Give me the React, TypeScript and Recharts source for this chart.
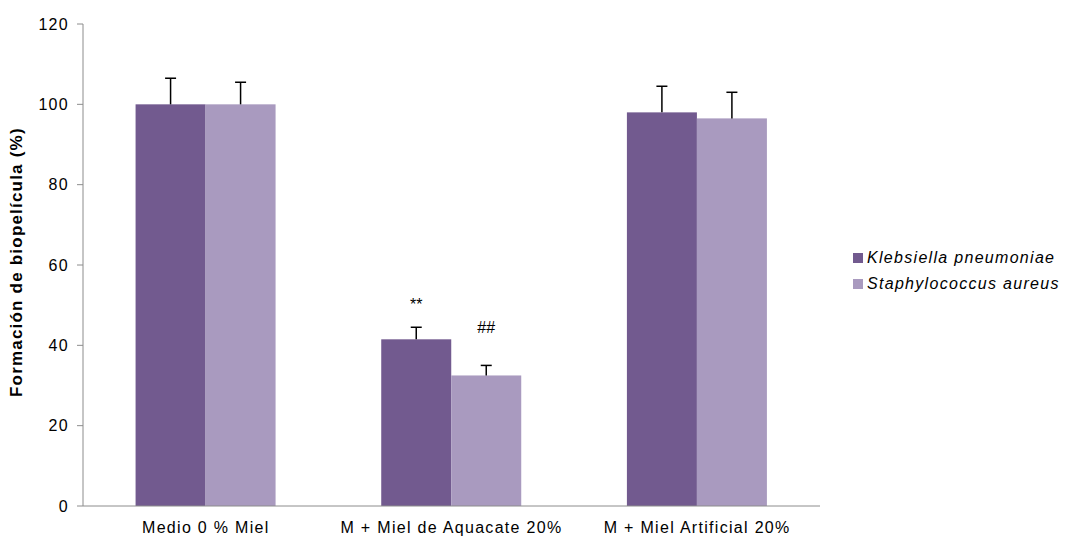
import React from 'react';
import { BarChart, Bar, XAxis, YAxis, Legend } from 'recharts';

const categories = ['Medio 0 % Miel', 'M + Miel de Aquacate 20%', 'M + Miel Artificial 20%'];
const klebsiella = [100, 41.5, 98];
const klebsiellaErr = [6.5, 3, 6.5];
const klebsiellaMark = ['', '**', ''];
const staphylococcus = [100, 32.5, 96.5];
const staphylococcusErr = [5.5, 2.5, 6.5];
const staphylococcusMark = ['', '##', ''];
const yTicks = [0, 20, 40, 60, 80, 100, 120];

const DARK = '#725a8f';
const LIGHT = '#a99abf';
const AXIS = '#8c8c8c';
const FONT = '"Liberation Sans", Arial, sans-serif';
const SPACING = 1.3; // the source text is rendered a bit wide

const data = categories.map((name, i) => ({
  name,
  kp: klebsiella[i],
  kpErr: klebsiellaErr[i],
  kpMark: klebsiellaMark[i],
  sa: staphylococcus[i],
  saErr: staphylococcusErr[i],
  saMark: staphylococcusMark[i],
}));

// bar rect + upward-only error whisker + significance mark
const makeShape = (key: string, markGap: number) => (props: any) => {
  const { x, y, width, height, fill, payload } = props;
  const v = payload[key];
  const err = payload[key + 'Err'];
  const mark = payload[key + 'Mark'];
  const errPx = v ? (err / v) * height : 0;
  const cx = x + width / 2;
  const top = y - errPx;
  return (
    <g>
      <rect x={x} y={y} width={width} height={height} fill={fill} />
      <line x1={cx} x2={cx} y1={y} y2={top} stroke="#000" strokeWidth={1.5} />
      <line x1={cx - 5.5} x2={cx + 5.5} y1={top} y2={top} stroke="#000" strokeWidth={1.5} />
      {mark ? (
        <text x={cx} y={top - markGap} textAnchor="middle" fontSize={16} fontFamily={FONT} fill="#000">
          {mark}
        </text>
      ) : null}
    </g>
  );
};

const renderLegend = () => (
  <div
    style={{
      fontFamily: FONT,
      fontSize: 16,
      letterSpacing: SPACING,
      fontStyle: 'italic',
      color: '#000',
      paddingLeft: 23,
      marginTop: -4,
    }}
  >
    {[
      { label: 'Klebsiella pneumoniae', color: DARK },
      { label: 'Staphylococcus aureus', color: LIGHT },
    ].map((it) => (
      <div key={it.label} style={{ display: 'flex', alignItems: 'center', height: 26 }}>
        <span style={{ display: 'inline-block', width: 10, height: 10, background: it.color, marginRight: 4 }} />
        <span>{it.label}</span>
      </div>
    ))}
  </div>
);

const tickStyle = { fill: '#000', fontSize: 16, fontFamily: FONT, letterSpacing: SPACING };

export default function App() {
  return (
    <BarChart
      width={1055}
      height={530}
      data={data}
      margin={{ top: 16, right: 10, bottom: 0, left: 0 }}
      barCategoryGap="21.4%"
      barGap={0}
    >
      <XAxis
        xAxisId="grid"
        type="number"
        domain={[0, 3]}
        ticks={[1, 2, 3]}
        tick={false}
        axisLine={false}
        tickLine={{ stroke: AXIS }}
        tickSize={6}
        height={0}
      />
      <XAxis
        dataKey="name"
        axisLine={{ stroke: AXIS }}
        tickLine={false}
        tick={tickStyle}
        tickMargin={10}
        height={32}
        interval={0}
      />
      <YAxis
        domain={[0, 120]}
        ticks={yTicks}
        width={75}
        axisLine={{ stroke: AXIS }}
        tickLine={{ stroke: AXIS }}
        tickSize={6}
        tick={tickStyle}
        tickMargin={8}
        label={{
          value: 'Formación de biopelícula (%)',
          angle: -90,
          position: 'insideLeft',
          dx: 3,
          dy: 132,
          style: { fontFamily: FONT, fontSize: 17, fontWeight: 'bold', letterSpacing: 1.2, fill: '#000' },
        }}
      />
      <Legend
        layout="vertical"
        align="right"
        verticalAlign="middle"
        content={renderLegend}
        wrapperStyle={{ width: 233, right: 0 }}
      />
      <Bar dataKey="kp" name="Klebsiella pneumoniae" fill={DARK} isAnimationActive={false} shape={makeShape('kp', 17)} />
      <Bar dataKey="sa" name="Staphylococcus aureus" fill={LIGHT} isAnimationActive={false} shape={makeShape('sa', 32)} />
    </BarChart>
  );
}
